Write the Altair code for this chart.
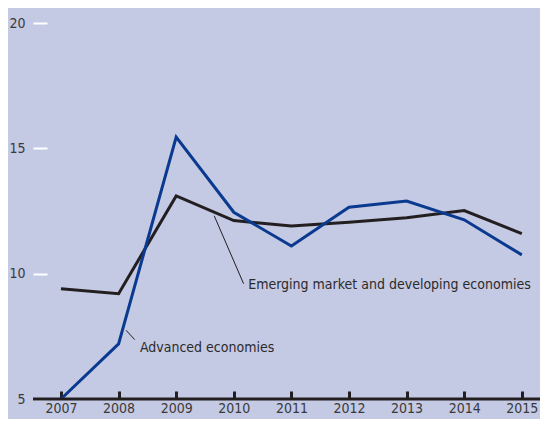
import altair as alt
import pandas as pd

years = [2007, 2008, 2009, 2010, 2011, 2012, 2013, 2014, 2015]
advanced = [5.0, 7.2, 15.45, 12.45, 11.1, 12.65, 12.9, 12.15, 10.75]
emerging = [9.4, 9.2, 13.1, 12.12, 11.9, 12.05, 12.23, 12.52, 11.6]
series_names = ["Advanced economies", "Emerging market and developing economies"]
y_ticks = [5, 10, 15, 20]

# annotation anchors (data coordinates)
label_x = [2008.37, 2010.25]
label_y = [6.87, 9.37]
leader_x = [2008.13, 2009.66]
leader_y = [7.74, 12.31]
leader_x2 = [2008.28, 2010.17]
leader_y2 = [7.37, 9.6]

FONT = "Liberation Sans Narrow, DejaVu Sans Condensed, Arial Narrow, sans-serif"
BG = "#c4c9e4"
BLUE = "#0a3a8f"
BLACK = "#231f20"

adv_df = pd.DataFrame({"year": years, "value": advanced})
emg_df = pd.DataFrame({"year": years, "value": emerging})
lab_df = pd.DataFrame({"label": series_names, "x": label_x, "y": label_y})
lead_df = pd.DataFrame({"x": leader_x, "y": leader_y, "x2": leader_x2, "y2": leader_y2})
base_df = pd.DataFrame({"v": [5]})

xscale = alt.Scale(domain=[2006.514, 2015.316], nice=False, zero=False)
yscale = alt.Scale(domain=[5, 20], nice=False, zero=False)

xaxis = alt.Axis(values=years, format="d", title=None, offset=-8, tickSize=8,
                 tickWidth=3, tickColor=BLACK, domain=False, grid=False,
                 labelPadding=2, labelFlush=False, labelFont=FONT, labelFontSize=14,
                 labelColor="#3a3a3a", labelOverlap=False)
yaxis = alt.Axis(values=y_ticks, title=None, offset=-14, tickSize=14, tickWidth=2,
                 tickColor="white", domain=False, grid=False, labelPadding=8,
                 labelFont=FONT, labelFontSize=14, labelColor="#3a3a3a")

emg_line = alt.Chart(emg_df).mark_line(color=BLACK, strokeWidth=3).encode(
    x=alt.X("year:Q", scale=xscale, axis=xaxis),
    y=alt.Y("value:Q", scale=yscale, axis=yaxis),
)
adv_line = alt.Chart(adv_df).mark_line(color=BLUE, strokeWidth=3).encode(
    x=alt.X("year:Q", scale=xscale),
    y=alt.Y("value:Q", scale=yscale),
)
base_rule = alt.Chart(base_df).mark_rule(color=BLACK, strokeWidth=3).encode(
    y=alt.Y("v:Q", scale=yscale)
)
leaders = alt.Chart(lead_df).mark_rule(color=BLACK, strokeWidth=1).encode(
    x=alt.X("x:Q", scale=xscale), y=alt.Y("y:Q", scale=yscale),
    x2="x2:Q", y2="y2:Q",
)
labels = alt.Chart(lab_df).mark_text(align="left", baseline="alphabetic", font=FONT,
                                     fontSize=14, color="#2b2b2b").encode(
    x=alt.X("x:Q", scale=xscale), y=alt.Y("y:Q", scale=yscale), text="label:N"
)

chart = alt.layer(emg_line, adv_line, base_rule, leaders, labels).properties(
    width=507, height=376, background=BG,
    padding={"left": 25, "top": 15, "right": 0, "bottom": 20},
    autosize=alt.AutoSizeParams(type="none"),
).configure_view(stroke=None)

chart.save("out.html", embed_options={"renderer": "svg", "actions": False})
